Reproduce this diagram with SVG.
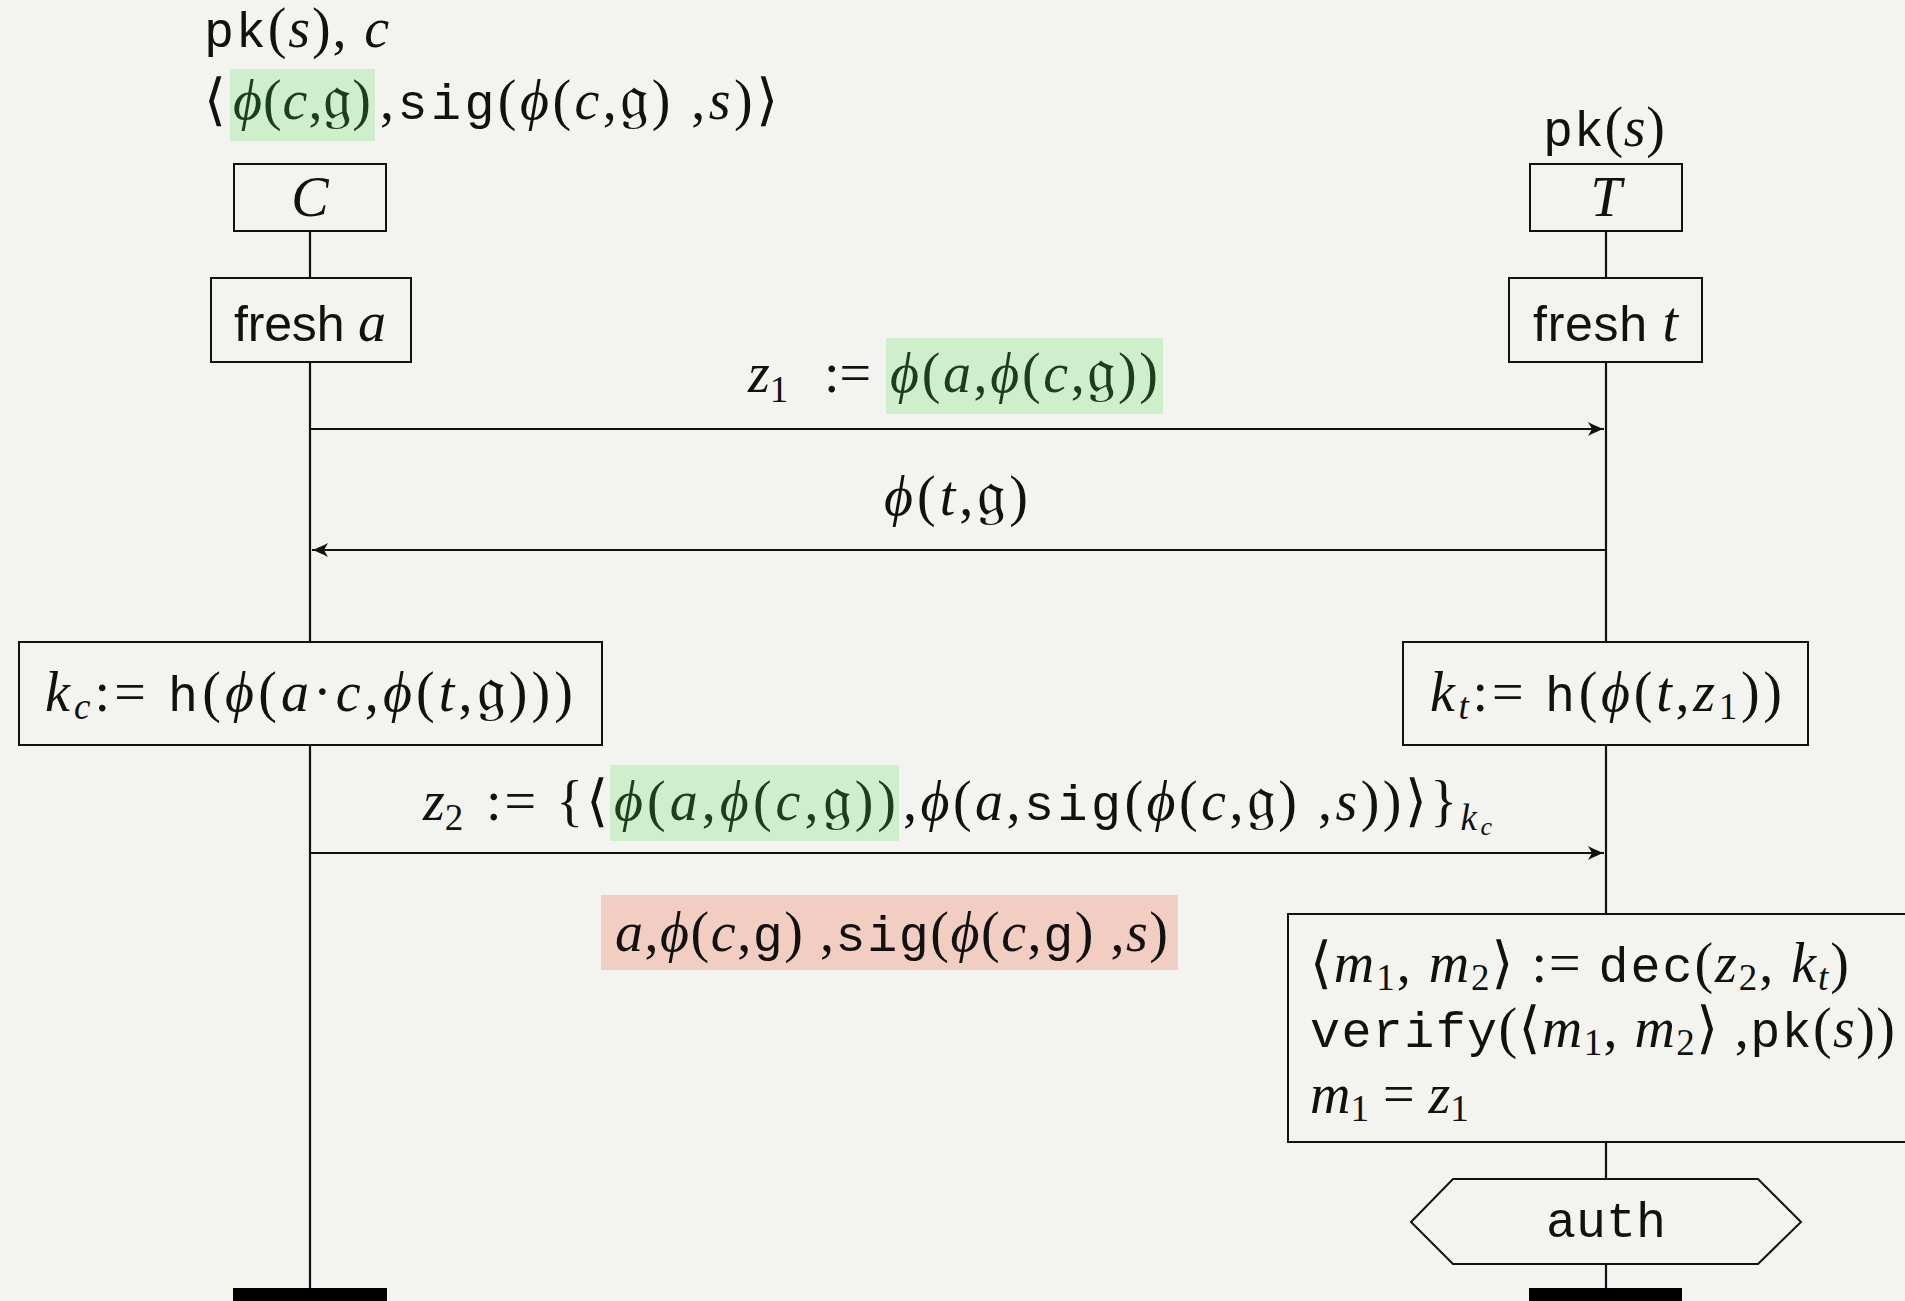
<svg xmlns="http://www.w3.org/2000/svg" width="1905" height="1301" viewBox="0 0 1905 1301">
<style>
.t{font-family:"Liberation Serif","DejaVu Serif",serif;font-size:56px;fill:#111}
.i{font-style:italic}
.tt{font-family:"Liberation Mono","DejaVu Sans Mono",monospace;font-style:normal;font-size:50px}
.sf{font-family:"Liberation Sans","DejaVu Sans",sans-serif;font-style:normal;font-size:50px}
.fr{font-family:"DejaVu Serif","DejaVu Sans","Noto Sans",serif;font-style:normal;font-size:64px}
.sub{font-size:37px}
.gt{fill:#1b3f1b}
.box{fill:#f3f3ef;stroke:#111;stroke-width:2}
.life{stroke:#111;stroke-width:2.2;fill:none}
.msg{stroke:#111;stroke-width:2.2;fill:none;marker-end:url(#ah)}
.hg{fill:#cfeecb}
.hr{fill:#f2cdc2}
</style>
<defs>
<marker id="ah" viewBox="-17 -8 18 16" refX="0" refY="0" markerWidth="18" markerHeight="16" markerUnits="userSpaceOnUse" orient="auto">
<path d="M0,0 C-5,-1.5 -10,-4 -16,-7 L-12,0 L-16,7 C-10,4 -5,1.5 0,0Z" fill="#111"/>
</marker>
</defs>
<rect x="0" y="0" width="1905" height="1301" fill="#f3f3ef"/>

<g id="lifelines">
<line class="life" x1="310" y1="231" x2="310" y2="1290"/>
<line class="life" x1="1606" y1="231" x2="1606" y2="1290"/>
</g>

<g id="connectors">
<line class="msg" x1="310" y1="429" x2="1604" y2="429"/>
<line class="msg" x1="1606" y1="550" x2="312" y2="550"/>
<line class="msg" x1="310" y1="853" x2="1604" y2="853"/>
</g>

<g id="labels">
<rect class="hg" x="230" y="69" width="145" height="72"/>
<text class="t" x="204" y="47" textLength="185" lengthAdjust="spacing"><tspan class="tt">pk</tspan>(<tspan class="i">s</tspan>), <tspan class="i">c</tspan></text>
<text class="t" x="204" y="119">⟨</text>
<text class="t gt" x="233" y="119" textLength="138" lengthAdjust="spacing"><tspan class="i">ϕ</tspan>(<tspan class="i">c</tspan>,<tspan class="fr">𝔤</tspan>)</text>
<text class="t" x="380" y="119" textLength="398" lengthAdjust="spacing">,<tspan class="tt">sig</tspan>(<tspan class="i">ϕ</tspan>(<tspan class="i">c</tspan>,<tspan class="fr">𝔤</tspan>) ,<tspan class="i">s</tspan>)⟩</text>

<text class="t" x="1543" y="146" textLength="122" lengthAdjust="spacing"><tspan class="tt">pk</tspan>(<tspan class="i">s</tspan>)</text>

<rect class="hg" x="886" y="338" width="277" height="76"/>
<text class="t" x="748" y="392"><tspan class="i">z</tspan><tspan class="sub" dy="10">1</tspan></text>
<text class="t" x="824" y="392">:=</text>
<text class="t gt" x="890" y="392" textLength="268" lengthAdjust="spacing"><tspan class="i">ϕ</tspan>(<tspan class="i">a</tspan>,<tspan class="i">ϕ</tspan>(<tspan class="i">c</tspan>,<tspan class="fr">𝔤</tspan>))</text>

<text class="t" x="884" y="515" textLength="144" lengthAdjust="spacing"><tspan class="i">ϕ</tspan>(<tspan class="i">t</tspan>,<tspan class="fr">𝔤</tspan>)</text>

<rect class="hg" x="610" y="765" width="289" height="76"/>
<text class="t" x="423" y="820"><tspan class="i">z</tspan><tspan class="sub" dy="10">2</tspan></text>
<text class="t" x="486" y="820" textLength="122" lengthAdjust="spacing">:= {⟨</text>
<text class="t gt" x="614" y="820" textLength="282" lengthAdjust="spacing"><tspan class="i">ϕ</tspan>(<tspan class="i">a</tspan>,<tspan class="i">ϕ</tspan>(<tspan class="i">c</tspan>,<tspan class="fr">𝔤</tspan>))</text>
<text class="t" x="903" y="820" textLength="589" lengthAdjust="spacing">,<tspan class="i">ϕ</tspan>(<tspan class="i">a</tspan>,<tspan class="tt">sig</tspan>(<tspan class="i">ϕ</tspan>(<tspan class="i">c</tspan>,<tspan class="fr">𝔤</tspan>) ,<tspan class="i">s</tspan>))⟩}<tspan class="i sub" dy="10">k</tspan><tspan class="i" font-size="26" dy="5">c</tspan></text>

<rect class="hr" x="601" y="895" width="577" height="75"/>
<text class="t" x="615" y="951" textLength="553" lengthAdjust="spacing"><tspan class="i">a</tspan>,<tspan class="i">ϕ</tspan>(<tspan class="i">c</tspan>,<tspan class="tt">g</tspan>) ,<tspan class="tt">sig</tspan>(<tspan class="i">ϕ</tspan>(<tspan class="i">c</tspan>,<tspan class="tt">g</tspan>) ,<tspan class="i">s</tspan>)</text>
</g>

<g id="node-C">
<rect class="box" x="234" y="164" width="152" height="67"/>
<text class="t i" x="310" y="216" text-anchor="middle">C</text>
</g>
<g id="node-T">
<rect class="box" x="1530" y="164" width="152" height="67"/>
<text class="t i" x="1606" y="216" text-anchor="middle">T</text>
</g>
<g id="node-fresh-a">
<rect class="box" x="211" y="278" width="200" height="84"/>
<text class="t" x="234" y="341" textLength="152" lengthAdjust="spacing"><tspan class="sf">fresh </tspan><tspan class="i">a</tspan></text>
</g>
<g id="node-fresh-t">
<rect class="box" x="1509" y="278" width="193" height="84"/>
<text class="t" x="1533" y="341" textLength="145" lengthAdjust="spacing"><tspan class="sf">fresh </tspan><tspan class="i">t</tspan></text>
</g>
<g id="node-kc">
<rect class="box" x="19" y="642" width="583" height="103"/>
<text class="t" x="45" y="711" textLength="528" lengthAdjust="spacing"><tspan class="i">k</tspan><tspan class="i sub" dy="8">c</tspan><tspan dy="-8">:= </tspan><tspan class="tt">h</tspan>(<tspan class="i">ϕ</tspan>(<tspan class="i">a</tspan>·<tspan class="i">c</tspan>,<tspan class="i">ϕ</tspan>(<tspan class="i">t</tspan>,<tspan class="fr">𝔤</tspan>)))</text>
</g>
<g id="node-kt">
<rect class="box" x="1403" y="642" width="405" height="103"/>
<text class="t" x="1430" y="711" textLength="352" lengthAdjust="spacing"><tspan class="i">k</tspan><tspan class="i sub" dy="8">t</tspan><tspan dy="-8">:= </tspan><tspan class="tt">h</tspan>(<tspan class="i">ϕ</tspan>(<tspan class="i">t</tspan>,<tspan class="i">z</tspan><tspan class="sub" dy="8">1</tspan><tspan dy="-8">))</tspan></text>
</g>
<g id="node-verify">
<rect class="box" x="1288" y="914" width="630" height="228"/>
<text class="t" x="1310" y="982" textLength="539" lengthAdjust="spacing">⟨<tspan class="i">m</tspan><tspan class="sub" dy="8">1</tspan><tspan dy="-8">, </tspan><tspan class="i">m</tspan><tspan class="sub" dy="8">2</tspan><tspan dy="-8">⟩ := </tspan><tspan class="tt">dec</tspan>(<tspan class="i">z</tspan><tspan class="sub" dy="8">2</tspan><tspan dy="-8">, </tspan><tspan class="i">k</tspan><tspan class="i sub" dy="8">t</tspan><tspan dy="-8">)</tspan></text>
<text class="t" x="1310" y="1047" textLength="585" lengthAdjust="spacing"><tspan class="tt">verify</tspan>(⟨<tspan class="i">m</tspan><tspan class="sub" dy="8">1</tspan><tspan dy="-8">, </tspan><tspan class="i">m</tspan><tspan class="sub" dy="8">2</tspan><tspan dy="-8">⟩ ,</tspan><tspan class="tt">pk</tspan>(<tspan class="i">s</tspan>))</text>
<text class="t" x="1310" y="1113"><tspan class="i">m</tspan><tspan class="sub" dy="8">1</tspan><tspan dy="-8"> = </tspan><tspan class="i">z</tspan><tspan class="sub" dy="8">1</tspan></text>
</g>
<g id="node-auth">
<polygon class="box" points="1411,1222 1453,1179 1758,1179 1801,1222 1758,1264 1453,1264"/>
<text class="t tt" x="1606" y="1237" text-anchor="middle">auth</text>
</g>
<g id="end-C"><rect x="233" y="1288" width="154" height="20" fill="#000"/></g>
<g id="end-T"><rect x="1529" y="1288" width="153" height="20" fill="#000"/></g>
</svg>
